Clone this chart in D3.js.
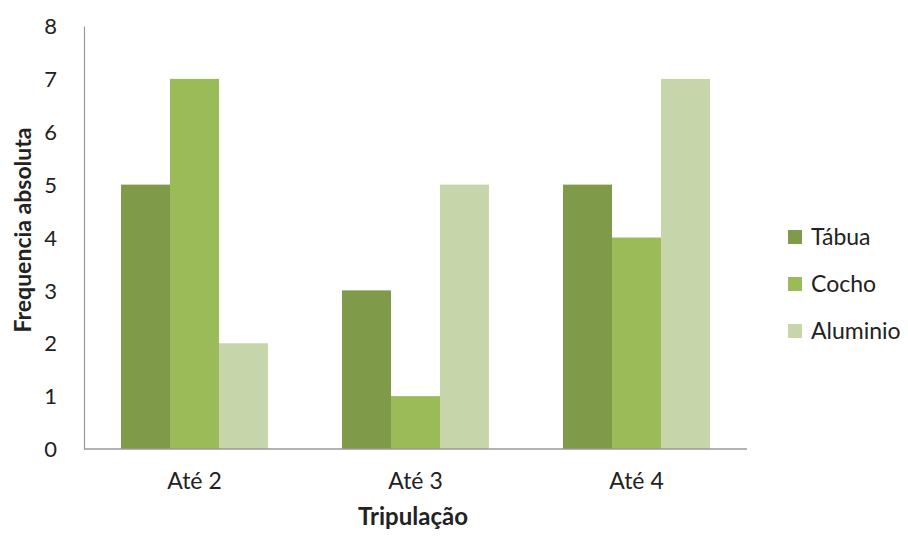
<!DOCTYPE html>
<html><head><meta charset="utf-8">
<script src="https://cdn.jsdelivr.net/npm/d3@7"></script>
<style>body{margin:0;background:#fff}text{font-family:Lato,"Open Sans",sans-serif;fill:#222}</style>
</head><body>
<svg id="c" width="908" height="536"></svg>
<script>
const categories = ["Até 2", "Até 3", "Até 4"];
const seriesNames = ["Tábua", "Cocho", "Aluminio"];
const tabua = [5, 3, 5];
const cocho = [7, 1, 4];
const aluminio = [2, 5, 7];
const yTicks = [0,1,2,3,4,5,6,7,8];
const colors = ["#7F9A48", "#9BBB59", "#C7D6AA"];
const values = [tabua, cocho, aluminio];

const svg = d3.select("#c");
const pLeft = 84, pRight = 747, pTop = 26, pBottom = 449;
const x0 = d3.scaleBand().domain(categories).range([pLeft, pRight]).paddingInner(0.335).paddingOuter(0.1675);
const x1 = d3.scaleBand().domain(seriesNames).range([0, x0.bandwidth()]);
const y = d3.scaleLinear().domain([0, 8]).range([pBottom, pTop]);

seriesNames.forEach((s, si) => {
  svg.append("g").selectAll("rect").data(categories).join("rect")
    .attr("x", c => x0(c) + x1(s))
    .attr("y", (c, i) => y(values[si][i]))
    .attr("width", x1.bandwidth())
    .attr("height", (c, i) => y(0) - y(values[si][i]))
    .attr("fill", colors[si]);
});

// y axis
const ya = svg.append("g").attr("transform", `translate(${pLeft},0)`)
  .call(d3.axisLeft(y).tickValues(yTicks).tickSize(0).tickPadding(27).tickFormat(d3.format("d")));
ya.select(".domain").attr("stroke", "#999").attr("stroke-width", 1.2);
ya.selectAll("text").style("font-size", "22px").attr("fill", "#222").attr("dy", "0.35em");

// x axis
const xa = svg.append("g").attr("transform", `translate(0,${pBottom})`)
  .call(d3.axisBottom(x0).tickSize(0).tickPadding(24));
xa.select(".domain").attr("d", `M${pLeft},0H${pRight}`).attr("stroke", "#999").attr("stroke-width", 1.5);
xa.selectAll("text").style("font-size", "23px").attr("fill", "#222");

svg.append("text").attr("transform", `translate(31,230) rotate(-90)`)
  .attr("text-anchor", "middle").style("font-size", "23px").style("font-weight", "bold")
  .text("Frequencia absoluta");
svg.append("text").attr("x", 413).attr("y", 525)
  .attr("text-anchor", "middle").style("font-size", "24px").style("font-weight", "bold")
  .text("Tripulação");

const lg = svg.append("g").selectAll("g").data(seriesNames).join("g")
  .attr("transform", (d, i) => `translate(788,${237 + i*47})`);
lg.append("rect").attr("x", 0).attr("y", -7).attr("width", 14).attr("height", 14).attr("fill", (d, i) => colors[i]);
lg.append("text").attr("x", 23).attr("y", 0).attr("dy", "0.35em").style("font-size", "23px").text(d => d);
</script>
</body></html>
